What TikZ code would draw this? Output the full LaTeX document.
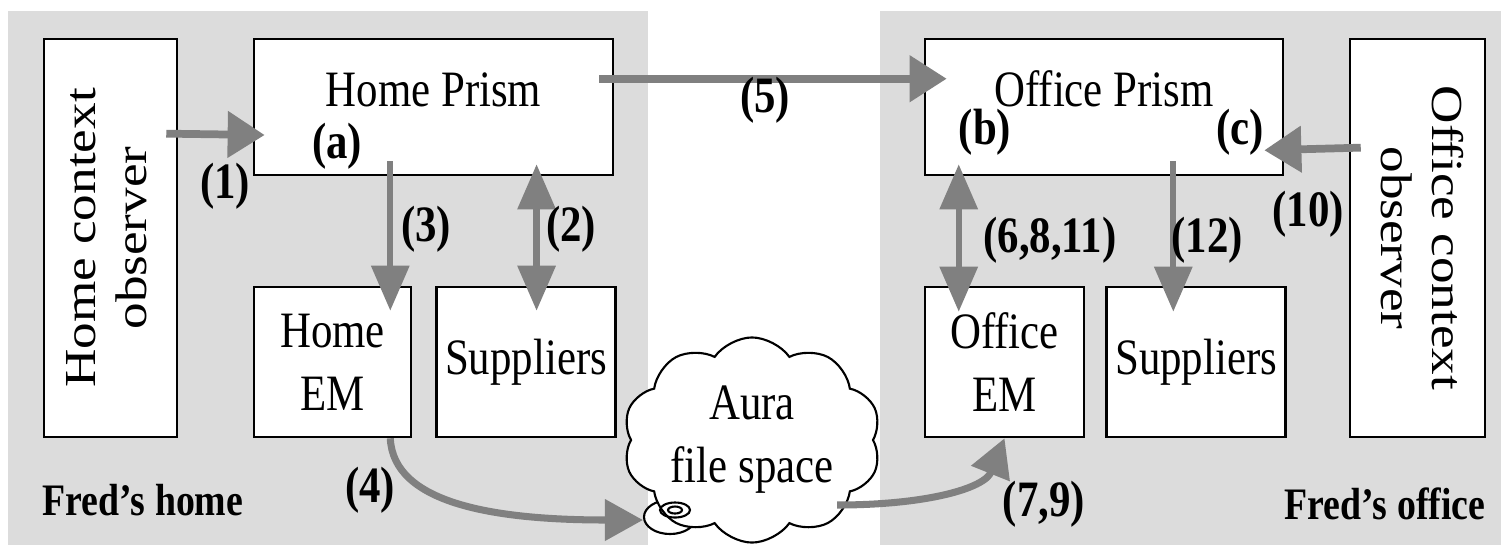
\documentclass[tikz,border=0pt]{standalone}
\usepackage{fontspec}
\setmainfont{Liberation Serif}
\newfontfamily\boxfont[FakeStretch=0.84]{Liberation Serif}
\newfontfamily\sidefont[FakeStretch=1.2]{Liberation Serif}
\usepackage{graphicx}
\usepackage{tikz}
\usetikzlibrary{arrows.meta,positioning,calc,shapes.symbols}
\definecolor{panelgray}{RGB}{220,220,220}
\definecolor{flowgray}{RGB}{128,128,128}

\begin{document}
\begin{tikzpicture}[
      x=0.01cm, y=-0.01cm,
      box/.style={draw=black, fill=white, line width=0.7pt, inner sep=0pt,
                  align=center, font=\boxfont\fontsize{14.5}{17.9}\selectfont},
      prism/.style={box, text height=0.67cm, text depth=0.69cm},
      smallbox/.style={box, minimum height=1.50cm},
      obsbox/.style={box, minimum height=3.98cm, font=\sidefont\fontsize{12.6}{14.5}\selectfont},
      tag/.style={inner sep=0pt, font=\boxfont\bfseries\fontsize{14.5}{17}\selectfont},
      place/.style={inner sep=0pt, font=\boxfont\bfseries\fontsize{12.8}{15}\selectfont},
      harrow/.style={-{Triangle[length=0.37cm, width=0.45cm]}, line width=2.2pt, draw=flowgray},
      varrow/.style={-{Triangle[length=0.45cm, width=0.37cm]}, line width=1.8pt, draw=flowgray},
      vboth/.style={varrow, {Triangle[length=0.45cm, width=0.37cm]}-{Triangle[length=0.45cm, width=0.37cm]}},
      curvearrow/.style={-{Triangle[length=0.38cm, width=0.40cm]}, line width=2pt, draw=flowgray}
    ]
      \useasboundingbox (0,0) rectangle (1501,545);
      \fill[panelgray] (8,11) rectangle (648,545);
      \fill[panelgray] (880,11) rectangle (1501,545);

      \node[obsbox, minimum width=1.33cm] (hobs) at (110.5,238)
        {\rotatebox{90}{\begin{tabular}{@{}c@{}}Home context\\observer\end{tabular}}};
      \node[prism, minimum width=3.59cm] (hprism) at (433.5,107) {Home Prism};
      \node[smallbox, minimum width=1.57cm] (hem) at (332.5,362) {Home\\EM};
      \node[smallbox, minimum width=1.79cm, right=0.23cm of hem] (hsup) {Suppliers};

      \node[prism, minimum width=3.58cm] (oprism) at (1104,107) {Office Prism};
      \node[smallbox, minimum width=1.59cm] (oem) at (1004.5,362) {Office\\EM};
      \node[smallbox, minimum width=1.79cm, right=0.20cm of oem] (osup) {Suppliers};
      \node[obsbox, minimum width=1.35cm] (oobs) at (1417.5,238)
        {\rotatebox{-90}{\begin{tabular}{@{}c@{}}Office context\\observer\end{tabular}}};

      \draw[line width=0.6pt, fill=white] (670,517) ellipse [x radius=0.26cm, y radius=0.17cm];
      \node[cloud, draw, fill=white, line width=0.6pt, cloud puffs=10, cloud puff arc=110,
            cloud ignores aspect, minimum width=2.58cm, minimum height=2.05cm, inner sep=0pt,
            align=center, font=\boxfont\fontsize{14.5}{17.9}\selectfont] (aura) at (752,440) {Aura\\file space};
      \draw[line width=0.6pt] (675,510) ellipse [x radius=0.15cm, y radius=0.075cm];
      \draw[line width=0.6pt] (675,510) ellipse [x radius=0.07cm, y radius=0.035cm];

      \draw[harrow] ($(hobs.north east)+(-12,96)$) -- ($(hprism.west)+(12,28)$);
      \draw[harrow] ($(hprism.north east)+(-15,41)$) -- ($(oprism.north west)+(23,41)$);
      \draw[harrow] ($(oobs.north west)+(12,110)$) -- ($(oprism.south east)+(-20,-26)$);
      \draw[varrow] ($(hem.north east |- hprism.south)+(-22,-15)$) -- ($(hem.north east)+(-22,25)$);
      \draw[vboth] ($(hsup.north |- hprism.south)+(10.5,-12)$) -- ($(hsup.north)+(10.5,25)$);
      \draw[vboth] ($(oem.north west |- oprism.south)+(35,-12)$) -- ($(oem.north west)+(35,26)$);
      \draw[varrow] ($(osup.north west |- oprism.south)+(68,-15)$) -- ($(osup.north west)+(68,26)$);
      \draw[curvearrow] ($(hem.south east)+(-22,0)$) .. controls +(3,65) and +(-150,0) .. ($(aura.center)+(-109,80)$);
      \draw[curvearrow] ($(aura.center)+(85,65)$) .. controls +(90,0) and +(-20,50) .. (oem.south);

      \node[tag] (l1) at (225,186) {(1)};
      \node[tag] (la) at (337,146) {(a)};
      \node[tag] (l3) at (426,229) {(3)};
      \node[tag] (l2) at (571,229) {(2)};
      \node[tag] (l4) at (370,490) {(4)};
      \node[tag] (l5) at (765,100) {(5)};
      \node[tag] (lb) at (985,132) {(b)};
      \node[tag] (lc) at (1240,132) {(c)};
      \node[tag] (l10) at (1308,214) {(10)};
      \node[tag] (l6) at (1050,240) {(6,8,11)};
      \node[tag] (l12) at (1207,240) {(12)};
      \node[tag] (l7) at (1044,504) {(7,9)};
      \node[place] (home) at (143,500) {Fred’s home};
      \node[place] (office) at (1385,504) {Fred’s office};
    \end{tikzpicture}
\end{document}
